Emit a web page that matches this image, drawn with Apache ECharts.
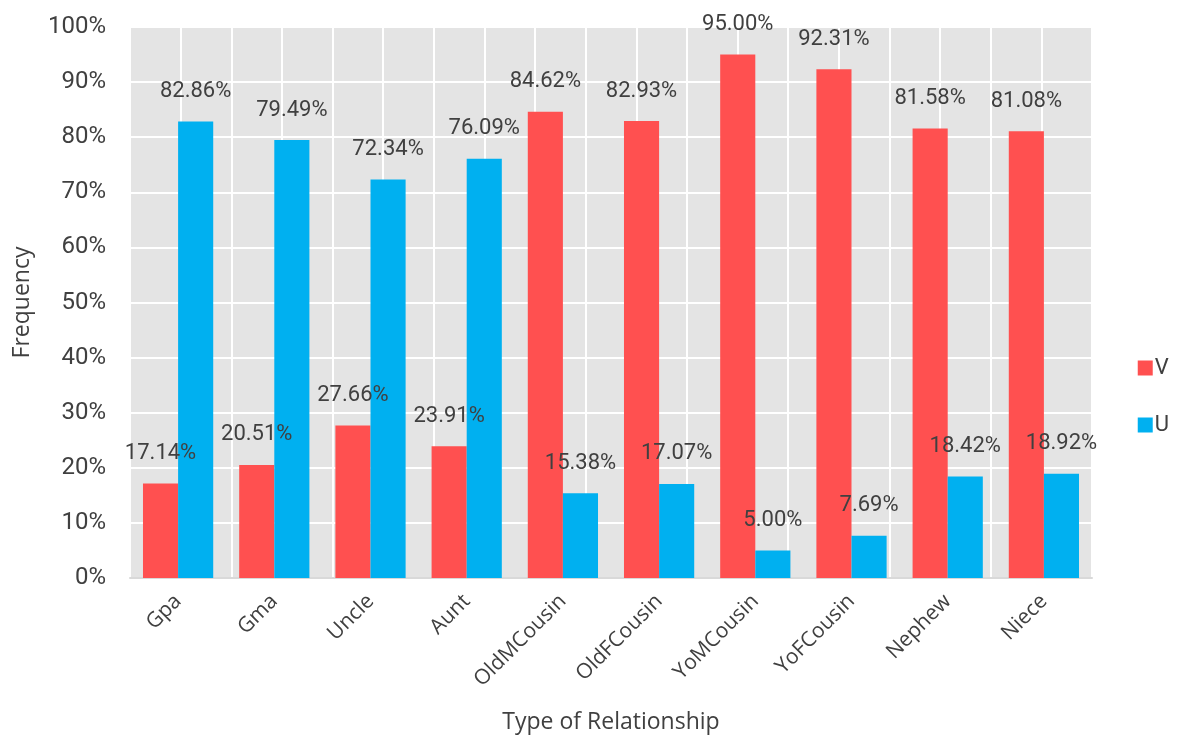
<!DOCTYPE html>
<html>
<head>
<meta charset="utf-8">
<script src="https://cdn.jsdelivr.net/npm/echarts@6/dist/echarts.min.js"></script>
<style>
  html, body { margin: 0; padding: 0; background: #ffffff; }
  #chart { width: 1178px; height: 740px; }
</style>
</head>
<body>
<div id="chart"></div>
<script>
// Share of each relationship type, in percent
const categories = ['Gpa', 'Gma', 'Uncle', 'Aunt', 'OldMCousin', 'OldFCousin', 'YoMCousin', 'YoFCousin', 'Nephew', 'Niece'];
const seriesV = [17.14, 20.51, 27.66, 23.91, 84.62, 82.93, 95.00, 92.31, 81.58, 81.08];
const seriesU = [82.86, 79.49, 72.34, 76.09, 15.38, 17.07, 5.00, 7.69, 18.42, 18.92];
const seriesNames = ['V', 'U'];

// Half-category slots used only to draw the white grid lines at bar-group centres and edges
const halfSlots = [];
categories.forEach(() => { halfSlots.push(''); halfSlots.push(''); });

const textColor = '#404040';
const labelFont = 'Roboto, "Liberation Sans", Arial, sans-serif';
const titleFont = '"Open Sans", "Noto Sans", sans-serif';

const chart = echarts.init(document.getElementById('chart'));

const valueLabel = {
  show: true,
  position: 'top',
  distance: 19,
  color: textColor,
  fontFamily: labelFont,
  fontSize: 22,
  formatter: p => p.value.toFixed(2) + '%'
};

chart.setOption({
  animation: false,
  backgroundColor: '#ffffff',
  grid: {
    left: 130, right: 86, top: 27, bottom: 162,
    outerBoundsMode: 'none',
    containLabel: false,
    show: true, backgroundColor: '#e4e4e4', borderWidth: 0
  },
  legend: {
    orient: 'vertical',
    right: 4,
    top: 352,
    itemWidth: 15,
    itemHeight: 15,
    itemGap: 35,
    icon: 'rect',
    textStyle: {
      color: textColor, fontFamily: labelFont, fontSize: 22,
      lineHeight: 15, padding: [0, 0, 0, -3]
    },
    data: seriesNames
  },
  xAxis: [
    {
      type: 'category',
      data: categories,
      name: 'Type of Relationship',
      nameLocation: 'middle',
      nameGap: 133,
      nameTextStyle: { color: textColor, fontFamily: titleFont, fontSize: 23 },
      axisLine: { show: true, lineStyle: { color: '#d9d9d9', width: 2 } },
      axisTick: { show: false },
      splitLine: { show: false },
      axisLabel: {
        color: textColor, fontFamily: titleFont, fontSize: 21,
        rotate: 45, margin: 20, interval: 0
      }
    },
    {
      type: 'category',
      data: halfSlots,
      position: 'bottom',
      boundaryGap: false,
      axisLine: { show: false },
      axisTick: { show: false },
      axisLabel: { show: false },
      splitLine: { show: true, interval: 0, lineStyle: { color: '#ffffff', width: 2 } }
    }
  ],
  yAxis: {
    type: 'value',
    min: 0,
    max: 100,
    interval: 10,
    name: 'Frequency',
    nameLocation: 'middle',
    nameGap: 96,
    nameRotate: 90,
    nameTextStyle: { color: textColor, fontFamily: titleFont, fontSize: 23 },
    axisLine: { show: false },
    axisTick: { show: false },
    axisLabel: {
      color: textColor, fontFamily: labelFont, fontSize: 24, margin: 24,
      formatter: '{value}%'
    },
    splitLine: { show: true, lineStyle: { color: '#ffffff', width: 2 } }
  },
  series: [
    {
      name: seriesNames[0],
      type: 'bar',
      data: seriesV,
      itemStyle: { color: '#ff5050' },
      barGap: '0%',
      barCategoryGap: '27%',
      label: valueLabel
    },
    {
      name: seriesNames[1],
      type: 'bar',
      data: seriesU,
      itemStyle: { color: '#00b0f0' },
      barGap: '0%',
      barCategoryGap: '27%',
      label: valueLabel
    }
  ]
});
</script>
</body>
</html>
